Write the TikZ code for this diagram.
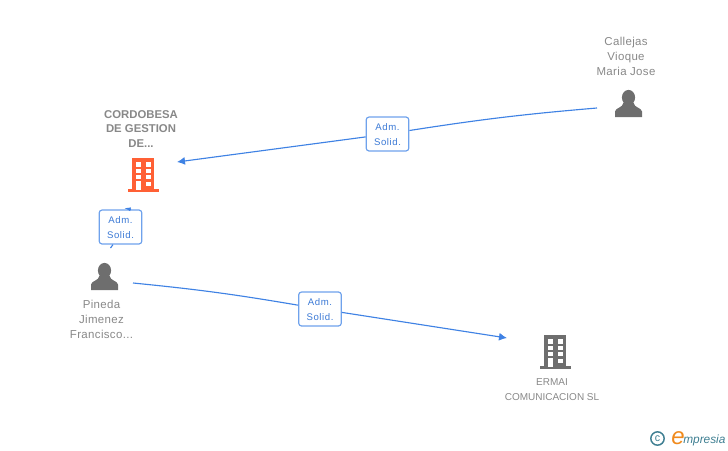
\documentclass[tikz,border=0pt]{standalone}
\usepackage{xcolor}
\usepackage{fontspec}
\setmainfont{Liberation Sans}
\usepackage{tikz}
\usetikzlibrary{arrows}
\usetikzlibrary{arrows.meta}
\usetikzlibrary{positioning}
\definecolor{linkblue}{HTML}{3F82E4}
\definecolor{boxblue}{HTML}{6FA2EC}
\definecolor{labelblue}{HTML}{3C7AD6}
\definecolor{namegray}{HTML}{888888}
\definecolor{icongray}{HTML}{6E6E6E}
\definecolor{firmorange}{HTML}{FF6035}
\definecolor{logoteal}{HTML}{3F7F92}
\definecolor{logoorange}{HTML}{F08A1D}
\tikzset{>=latex}
\newcommand{\rolelabel}{\rule{0pt}{6.7pt}Adm.\\Solid.}
\tikzset{role/.style = {draw = boxblue, fill = white, line width = .9pt, rounded corners = 2.2pt, minimum width = 32pt, minimum height = 25.5pt, inner sep = 0, align = center, text = labelblue, font = \fontsize{7.2}{11.2}\selectfont\addfontfeature{LetterSpace=6}}}
\tikzset{person/.style = {draw = none, inner sep = 0, align = center, text = namegray, font = \fontsize{8.6}{11.2}\selectfont\addfontfeature{LetterSpace=3}}}
\tikzset{firm/.style = {draw = none, inner sep = 0, align = center, text = namegray, font = \fontsize{7.5}{11.2}\selectfont}}
\tikzset{plainlink/.style = {-, draw = linkblue, line width = .85pt}}
\tikzset{link/.style = {-{Latex[length=6pt, width=6pt]}, draw = linkblue, line width = .85pt}}
\tikzset{personicon/.pic = {
  \fill [icongray] (0,-6) circle [x radius = 6.6, y radius = 7.6];
  \fill [icongray] (-13.5,13.5) -- (-13.5,8) .. controls (-13,4) and (-5.5,4.5) .. (-5,-1) -- (5,-1) .. controls (5.5,4.5) and (13,4) .. (13.5,8) -- (13.5,13.5) -- cycle;
}}
\tikzset{buildingicon/.pic = {
  \fill [pic actions] (-11,-17) rectangle (11,15);
  \fill [pic actions] (-15.5,14) rectangle (16,17);
  \foreach \ya/\yb in {-13/-8, -6.5/-2, 0/4} {
    \fill [white] (-7,\ya) rectangle (-2,\yb);
    \fill [white] (3,\ya) rectangle (8,\yb);
  }
  \fill [white] (-7,6) rectangle (-2,15);
  \fill [white] (3,7) rectangle (8,11);
}}
\begin{document}
\begin{tikzpicture}[x=.75pt, y=-.75pt]
\useasboundingbox (0,0) rectangle (728,450);
% names
\node [person] (callejas) at (626,56) {Callejas\\Vioque\\Maria Jose};
\node [firm, font = \fontsize{8.5}{11.2}\selectfont\bfseries] (cordobesa) at (141,129) {CORDOBESA\\DE GESTION\\DE...};
\node [person] (pineda) at (101.5,319) {Pineda\\Jimenez\\Francisco...};
\node [firm] (ermai) at (552,390) {ERMAI\\COMUNICACION SL};
% icons
\pic at (628.5,103.5) {personicon};
\pic [fill = firmorange] at (143,175) {buildingicon};
\pic at (104.5,276.5) {personicon};
\pic [fill = icongray] at (555,352) {buildingicon};
% role boxes
\node [role] (adm1) at (387.5,134) {\rolelabel};
\node [role] (adm2) at (120.5,227) {\rolelabel};
\node [role] (adm3) at (320,309) {\rolelabel};
% free ends
\coordinate (callejasout) at (597,108);
\coordinate (cordobesain) at (177,162);
\coordinate (pinedaup) at (110.5,248);
\coordinate (cordobesalow) at (124,208);
\coordinate (pinedaout) at (133,283);
\coordinate (ermaiin) at (507,338);
\draw [plainlink, bend right=2] (callejasout) to (adm1);
\draw [link] (adm1) to (cordobesain);
\draw [plainlink] (pinedaup) to (adm2.south -| 113,0);
\draw [-{Latex[length=5pt, width=3pt]}, draw = linkblue, line width = .85pt] (adm2.north -| 131,0) to (cordobesalow);
\draw [plainlink, bend left=2] (pinedaout) to (adm3);
\draw [link] (adm3) to (ermaiin);
% logo
\node [draw = logoteal, circle, line width = 1.1pt, minimum size = 10pt, inner sep = 0, text = logoteal, font = \fontsize{8}{8}\selectfont] (copyr) at (657.5,438.5) {c};
\node [inner sep = 0, text = logoorange, font = \itshape\fontsize{18}{18}\selectfont, anchor = base west] (logoe) at (671,444) {e};
\node [inner sep = 0, text = logoteal, font = \itshape\fontsize{8.9}{10}\selectfont, anchor = base west] (logotext) at (683,443) {mpresia};
\end{tikzpicture}
\end{document}
